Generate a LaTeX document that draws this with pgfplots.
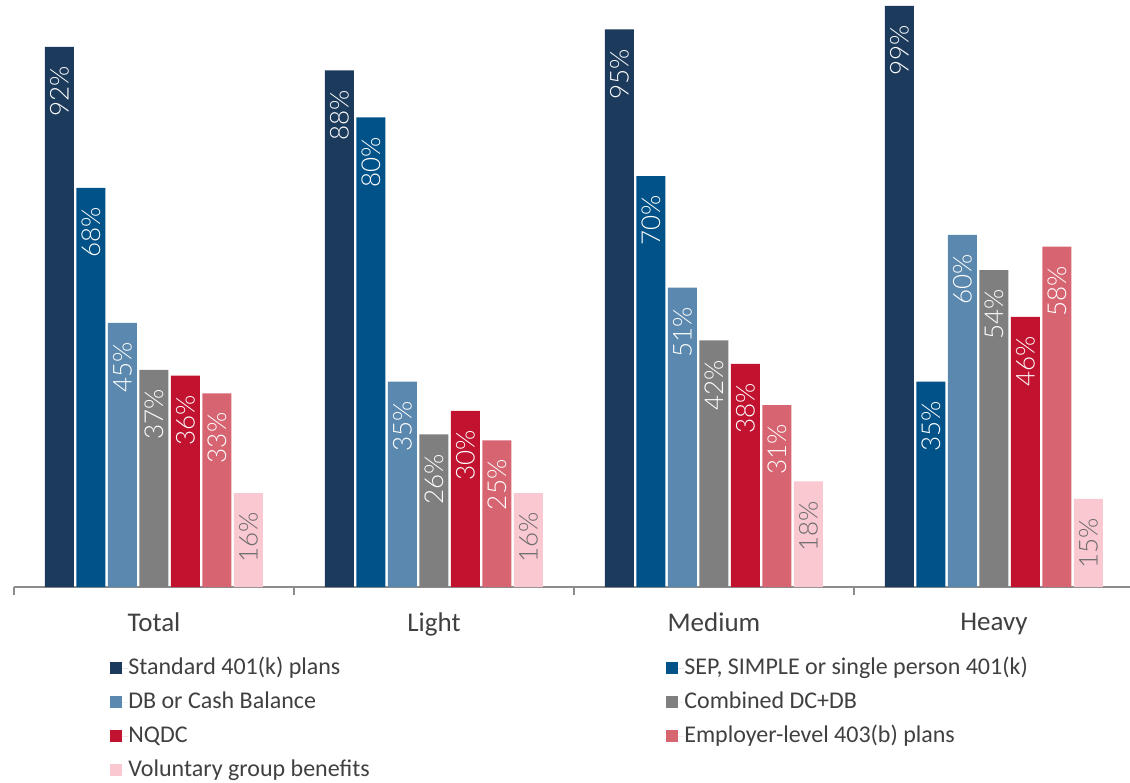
\documentclass[border=0pt]{standalone}
\usepackage{fontspec}
\setmainfont{Carlito}
\newfontfamily\lightfont{Lato}[UprightFont=* Light]
\usepackage{pgfplots}
\pgfplotsset{compat=1.18}
\definecolor{cA}{HTML}{1B3A5C}
\definecolor{cB}{HTML}{005288}
\definecolor{cC}{HTML}{5B88AE}
\definecolor{cD}{HTML}{7F7F7F}
\definecolor{cE}{HTML}{C1122F}
\definecolor{cF}{HTML}{D76571}
\definecolor{cG}{HTML}{F9C8D0}
\definecolor{axgray}{HTML}{8C8C8C}
\definecolor{txtgray}{HTML}{404040}
\definecolor{lblgray}{HTML}{6A6A6A}
\begin{document}
\begin{tikzpicture}
\useasboundingbox (0,0) rectangle (565pt,391pt);
\begin{axis}[
  at={(7pt,97.5pt)}, anchor=south west,
  scale only axis, width=558pt, height=293.5pt,
  xmin=-0.5, xmax=3.486, ymin=0, ymax=100,
  axis x line=bottom, axis y line=none,
  x axis line style={-, draw=axgray, line width=0.75pt},
  xtick={-0.5,0.5,1.5,2.5}, xticklabels={},
  tick align=outside, major tick length=4pt,
  tick style={draw=axgray, line width=0.6pt},
  extra x ticks={0,1,2,3},
  extra x tick labels={Total,Light,Medium,Heavy},
  extra x tick style={major tick length=0pt, tick style={draw=none}},
  xticklabel style={font=\fontsize{13.5}{16}\selectfont, text=txtgray, yshift=-9.5pt},
  ybar=1.25pt, bar width=14.5pt,
  /pgf/number format/assume math mode=true,
  nodes near coords={\pgfmathprintnumber{\pgfplotspointmeta}\%},
  every node near coord/.append style={rotate=90, anchor=east, font=\lightfont\fontsize{13}{15}\selectfont, text=white, inner xsep=9.5pt},
  legend columns=2,
  legend cell align=left,
  legend image code/.code={\fill[#1] (0pt,-3pt) rectangle (6pt,3pt); \path (0pt,0pt) -- (9pt,0pt);},
  legend style={at={(0.0806,-0.1107)}, anchor=north west, draw=none, fill=none,
    font=\fontsize{12}{14}\selectfont, text=txtgray,
    column sep=0pt, row sep=5pt,
    nodes={inner sep=0pt, text height=9pt, text depth=3pt}},
]
\addplot[fill=cA, draw=none] coordinates {(0,92) (1,88) (2,95) (3,99)};
\addlegendentry{\makebox[269pt][l]{Standard 401(k) plans}}
\addplot[fill=cB, draw=none] coordinates {(0,68) (1,80) (2,70) (3,35)};
\addlegendentry{SEP, SIMPLE or single person 401(k)}
\addplot[fill=cC, draw=none] coordinates {(0,45) (1,35) (2,51) (3,60)};
\addlegendentry{\makebox[269pt][l]{DB or Cash Balance}}
\addplot[fill=cD, draw=none] coordinates {(0,37) (1,26) (2,42) (3,54)};
\addlegendentry{Combined DC+DB}
\addplot[fill=cE, draw=none] coordinates {(0,36) (1,30) (2,38) (3,46)};
\addlegendentry{\makebox[269pt][l]{NQDC}}
\addplot[fill=cF, draw=none] coordinates {(0,33) (1,25) (2,31) (3,58)};
\addlegendentry{Employer-level 403(b) plans}
\addplot[fill=cG, draw=none, every node near coord/.append style={text=lblgray}] coordinates {(0,16) (1,16) (2,18) (3,15)};
\addlegendentry{\makebox[269pt][l]{Voluntary group benefits}}
\end{axis}
\end{tikzpicture}
\end{document}
